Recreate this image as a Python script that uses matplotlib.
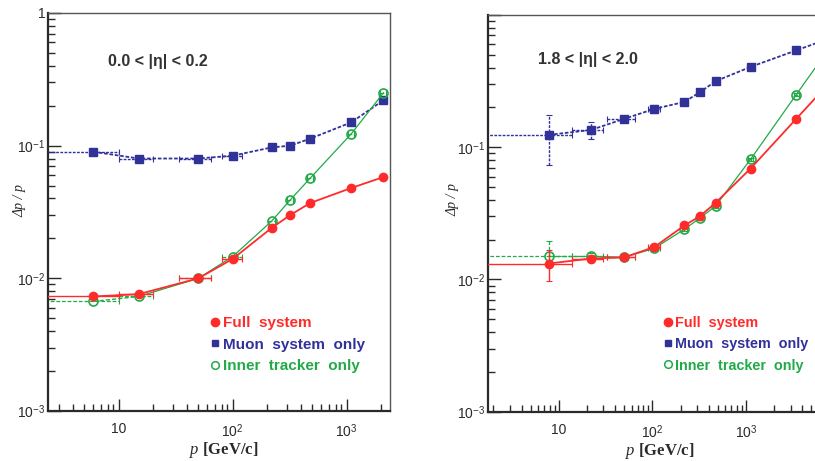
import matplotlib
matplotlib.use("Agg")
import matplotlib.pyplot as plt
from matplotlib.ticker import FixedLocator, FixedFormatter, NullFormatter
from matplotlib.lines import Line2D
import numpy as np

plt.rcParams['font.family'] = ['Liberation Sans', 'DejaVu Sans']
plt.rcParams['mathtext.fontset'] = 'custom'
plt.rcParams['mathtext.rm'] = 'Liberation Sans'
plt.rcParams['mathtext.it'] = 'Liberation Serif:italic'
plt.rcParams['mathtext.bf'] = 'Liberation Sans:bold'

RED = '#ff2b2b'
BLUE = '#31319a'
GREEN = '#22aa48'
DARK = '#2a2a2a'

# ==========================================
# --- DATA ---
# ==========================================

# 0.0 < |eta| < 0.2
p_left = [6, 15, 50, 100, 220, 320, 480, 1100, 2100]
bin_lo_left = [2.0, 10, 34, 80, 205, 300, 450, 1030, 1980]
bin_hi_left = [10, 20, 65, 120, 235, 340, 510, 1170, 2230]
full_left = [0.0073, 0.0076, 0.0100, 0.0140, 0.024, 0.030, 0.037, 0.048, 0.058]
muon_left = [0.090, 0.080, 0.080, 0.084, 0.097, 0.100, 0.113, 0.150, 0.220]
inner_left = [0.0067, 0.0073, 0.0100, 0.0146, 0.027, 0.039, 0.057, 0.123, 0.250]

# 1.8 < |eta| < 2.0
p_right = [7.8, 22, 50, 105, 220, 320, 475, 1120, 3450, 6500]
bin_lo_right = [1.2, 13.8, 33, 90, 205, 300, 445, 1050, 3250, 6100]
bin_hi_right = [13.8, 30, 65, 120, 235, 340, 505, 1200, 3650, 6900]
full_right = [0.0132, 0.0144, 0.0147, 0.0176, 0.0256, 0.030, 0.038, 0.069, 0.164, 0.267]
muon_right = [0.124, 0.135, 0.164, 0.195, 0.220, 0.260, 0.316, 0.405, 0.540, 0.635]
inner_right = [0.0150, 0.0150, 0.0147, 0.0172, 0.024, 0.029, 0.036, 0.081, 0.250, 0.470]
full_right_dn = [0.0035, 0.0008, 0.0004, 0.0006, 0.0008, 0.001, 0.001, 0.002, 0.004, 0.006]
full_right_up = [0.0035, 0.0008, 0.0004, 0.0006, 0.0008, 0.001, 0.001, 0.002, 0.004, 0.006]
muon_right_dn = [0.050, 0.020, 0.006, 0.012, 0.006, 0.008, 0.010, 0.010, 0.010, 0.010]
muon_right_up = [0.052, 0.020, 0.006, 0.015, 0.006, 0.008, 0.010, 0.010, 0.010, 0.010]
inner_right_dn = [0.0025, 0.0008, 0.0004, 0.0006, 0.0008, 0.001, 0.001, 0.002, 0.005, 0.008]
inner_right_up = [0.0045, 0.0008, 0.0004, 0.0006, 0.0008, 0.001, 0.001, 0.002, 0.005, 0.008]

legend_labels = ["Full  system", "Muon  system  only", "Inner  tracker  only"]


def style_errbar(cont, ls):
    for lc in cont.lines[2]:
        lc.set_linestyle(ls)


def draw_panel(ax, p, lo, hi, full, muon, inner, yerrs, eta_text, xlim,
               top_label, text_pos, ylab_pos, leg_pos, leg_size):
    p = np.array(p, dtype=float)
    xerr = [p - np.array(lo), np.array(hi) - p]

    full_err = None if yerrs is None else [yerrs[0], yerrs[1]]
    muon_err = None if yerrs is None else [yerrs[2], yerrs[3]]
    inner_err = None if yerrs is None else [yerrs[4], yerrs[5]]

    # Muon system only
    eb = ax.errorbar(p, muon, xerr=xerr, yerr=muon_err, fmt='none', ecolor=BLUE,
                     elinewidth=1.0, capsize=2, capthick=0.8, zorder=2)
    style_errbar(eb, (0, (2, 1)))
    ax.plot(p, muon, color=BLUE, ls=(0, (2, 1)), lw=1.3, marker='s', ms=5.5,
            mec=BLUE, mfc=BLUE, zorder=3)

    # Inner tracker only
    eb = ax.errorbar(p, inner, xerr=xerr, yerr=inner_err, fmt='none', ecolor=GREEN,
                     elinewidth=0.9, capsize=2, capthick=0.8, zorder=2)
    style_errbar(eb, (0, (3, 1.5)))
    ax.plot(p[:2], inner[:2], color=GREEN, ls=(0, (3, 1.5)), lw=1.0, zorder=3)
    ax.plot(p[1:], inner[1:], color=GREEN, ls='-', lw=0.9, zorder=3)
    ax.plot(p, inner, ls='none', marker='o', ms=6.5, mfc='none', mec=GREEN,
            mew=1.2, zorder=4)

    # Full system
    ax.errorbar(p, full, xerr=xerr, yerr=full_err, fmt='none', ecolor=RED,
                elinewidth=1.0, capsize=2, capthick=0.8, zorder=5)
    ax.plot(p, full, color=RED, ls='-', lw=1.3, marker='o', ms=6,
            mec=RED, mfc=RED, zorder=6)

    ax.set_xscale('log')
    ax.set_yscale('log')
    ax.set_xlim(*xlim)
    ax.set_ylim(1e-3, 1)

    # ticks
    ax.xaxis.set_major_locator(FixedLocator([10, 100, 1000]))
    ax.xaxis.set_major_formatter(FixedFormatter(["10", r"$10^{2}$", r"$10^{3}$"]))
    xminor = [m * 10 ** d for d in range(0, 4) for m in range(2, 10)]
    ax.xaxis.set_minor_locator(FixedLocator(xminor))
    ax.xaxis.set_minor_formatter(NullFormatter())
    ax.yaxis.set_major_locator(FixedLocator([1e-3, 1e-2, 1e-1, 1]))
    ax.yaxis.set_major_formatter(FixedFormatter(
        [r"$10^{-3}$", r"$10^{-2}$", r"$10^{-1}$", top_label]))
    yminor = [m * 10.0 ** d for d in range(-3, 0) for m in range(2, 10)]
    ax.yaxis.set_minor_locator(FixedLocator(yminor))
    ax.yaxis.set_minor_formatter(NullFormatter())
    ax.tick_params(which='both', direction='in', top=False, right=False,
                   color=DARK, labelcolor=DARK, labelsize=10, width=1.0)
    ax.tick_params(which='major', length=9)
    ax.tick_params(which='minor', length=5)
    ax.tick_params(axis='x', pad=8)
    ax.tick_params(axis='y', pad=2)

    for side in ['left', 'bottom']:
        ax.spines[side].set_linewidth(1.6)
        ax.spines[side].set_color(DARK)
    for side in ['top', 'right']:
        ax.spines[side].set_linewidth(1.0)
        ax.spines[side].set_color('#555555')

    ax.text(text_pos[0], text_pos[1], eta_text, transform=ax.transAxes,
            fontsize=11.5, fontweight='bold', color='#333333', va='center', ha='left')

    ax.text(ylab_pos[0], ylab_pos[1], "Δp / p", transform=ax.transAxes,
            rotation=90, fontsize=10, style='italic', color=DARK, ha='center', va='center',
            fontfamily='Liberation Serif')
    ax.text(ylab_pos[2], -0.098, r"$\mathit{p}$ [GeV/c]", transform=ax.transAxes,
            fontsize=12, fontweight='bold', fontfamily='Liberation Serif', color=DARK,
            ha='center', va='center')

    handles = [
        Line2D([], [], ls='none', marker='o', ms=6, mfc=RED, mec=RED),
        Line2D([], [], ls='none', marker='s', ms=5, mfc=BLUE, mec=BLUE),
        Line2D([], [], ls='none', marker='o', ms=5.5, mfc='none', mec=GREEN, mew=1.1),
    ]
    ax.legend(handles, legend_labels, loc='upper left', bbox_to_anchor=leg_pos,
              frameon=False, handlelength=0.5, handletextpad=0.25, borderpad=0,
              borderaxespad=0, labelspacing=0.5,
              labelcolor=[RED, BLUE, GREEN],
              prop={'size': leg_size, 'weight': 'bold', 'family': 'Liberation Sans'})


fig = plt.figure(figsize=(8.15, 4.61), dpi=100)
ax_l = fig.add_axes([48 / 815, 50 / 461, 342 / 815, 398 / 461])
ax_r = fig.add_axes([488 / 815, 49.3 / 461, 337 / 815, 396.7 / 461])

draw_panel(ax_l, p_left, bin_lo_left, bin_hi_left, full_left, muon_left, inner_left,
           None, r"0.0 < |η| < 0.2", (2.4, 2400), "1",
           (0.175, 0.877), (-0.082, 0.53, 0.515), (0.477, 0.239), 11)

yerrs_right = [full_right_dn, full_right_up, muon_right_dn, muon_right_up,
               inner_right_dn, inner_right_up]
draw_panel(ax_r, p_right, bin_lo_right, bin_hi_right, full_right, muon_right, inner_right,
           yerrs_right, r"1.8 < |η| < 2.0", (1.75, 7000), "",
           (0.148, 0.887), (-0.104, 0.534, 0.51), (0.522, 0.241), 10.4)

fig.savefig("out.png", dpi=100)
